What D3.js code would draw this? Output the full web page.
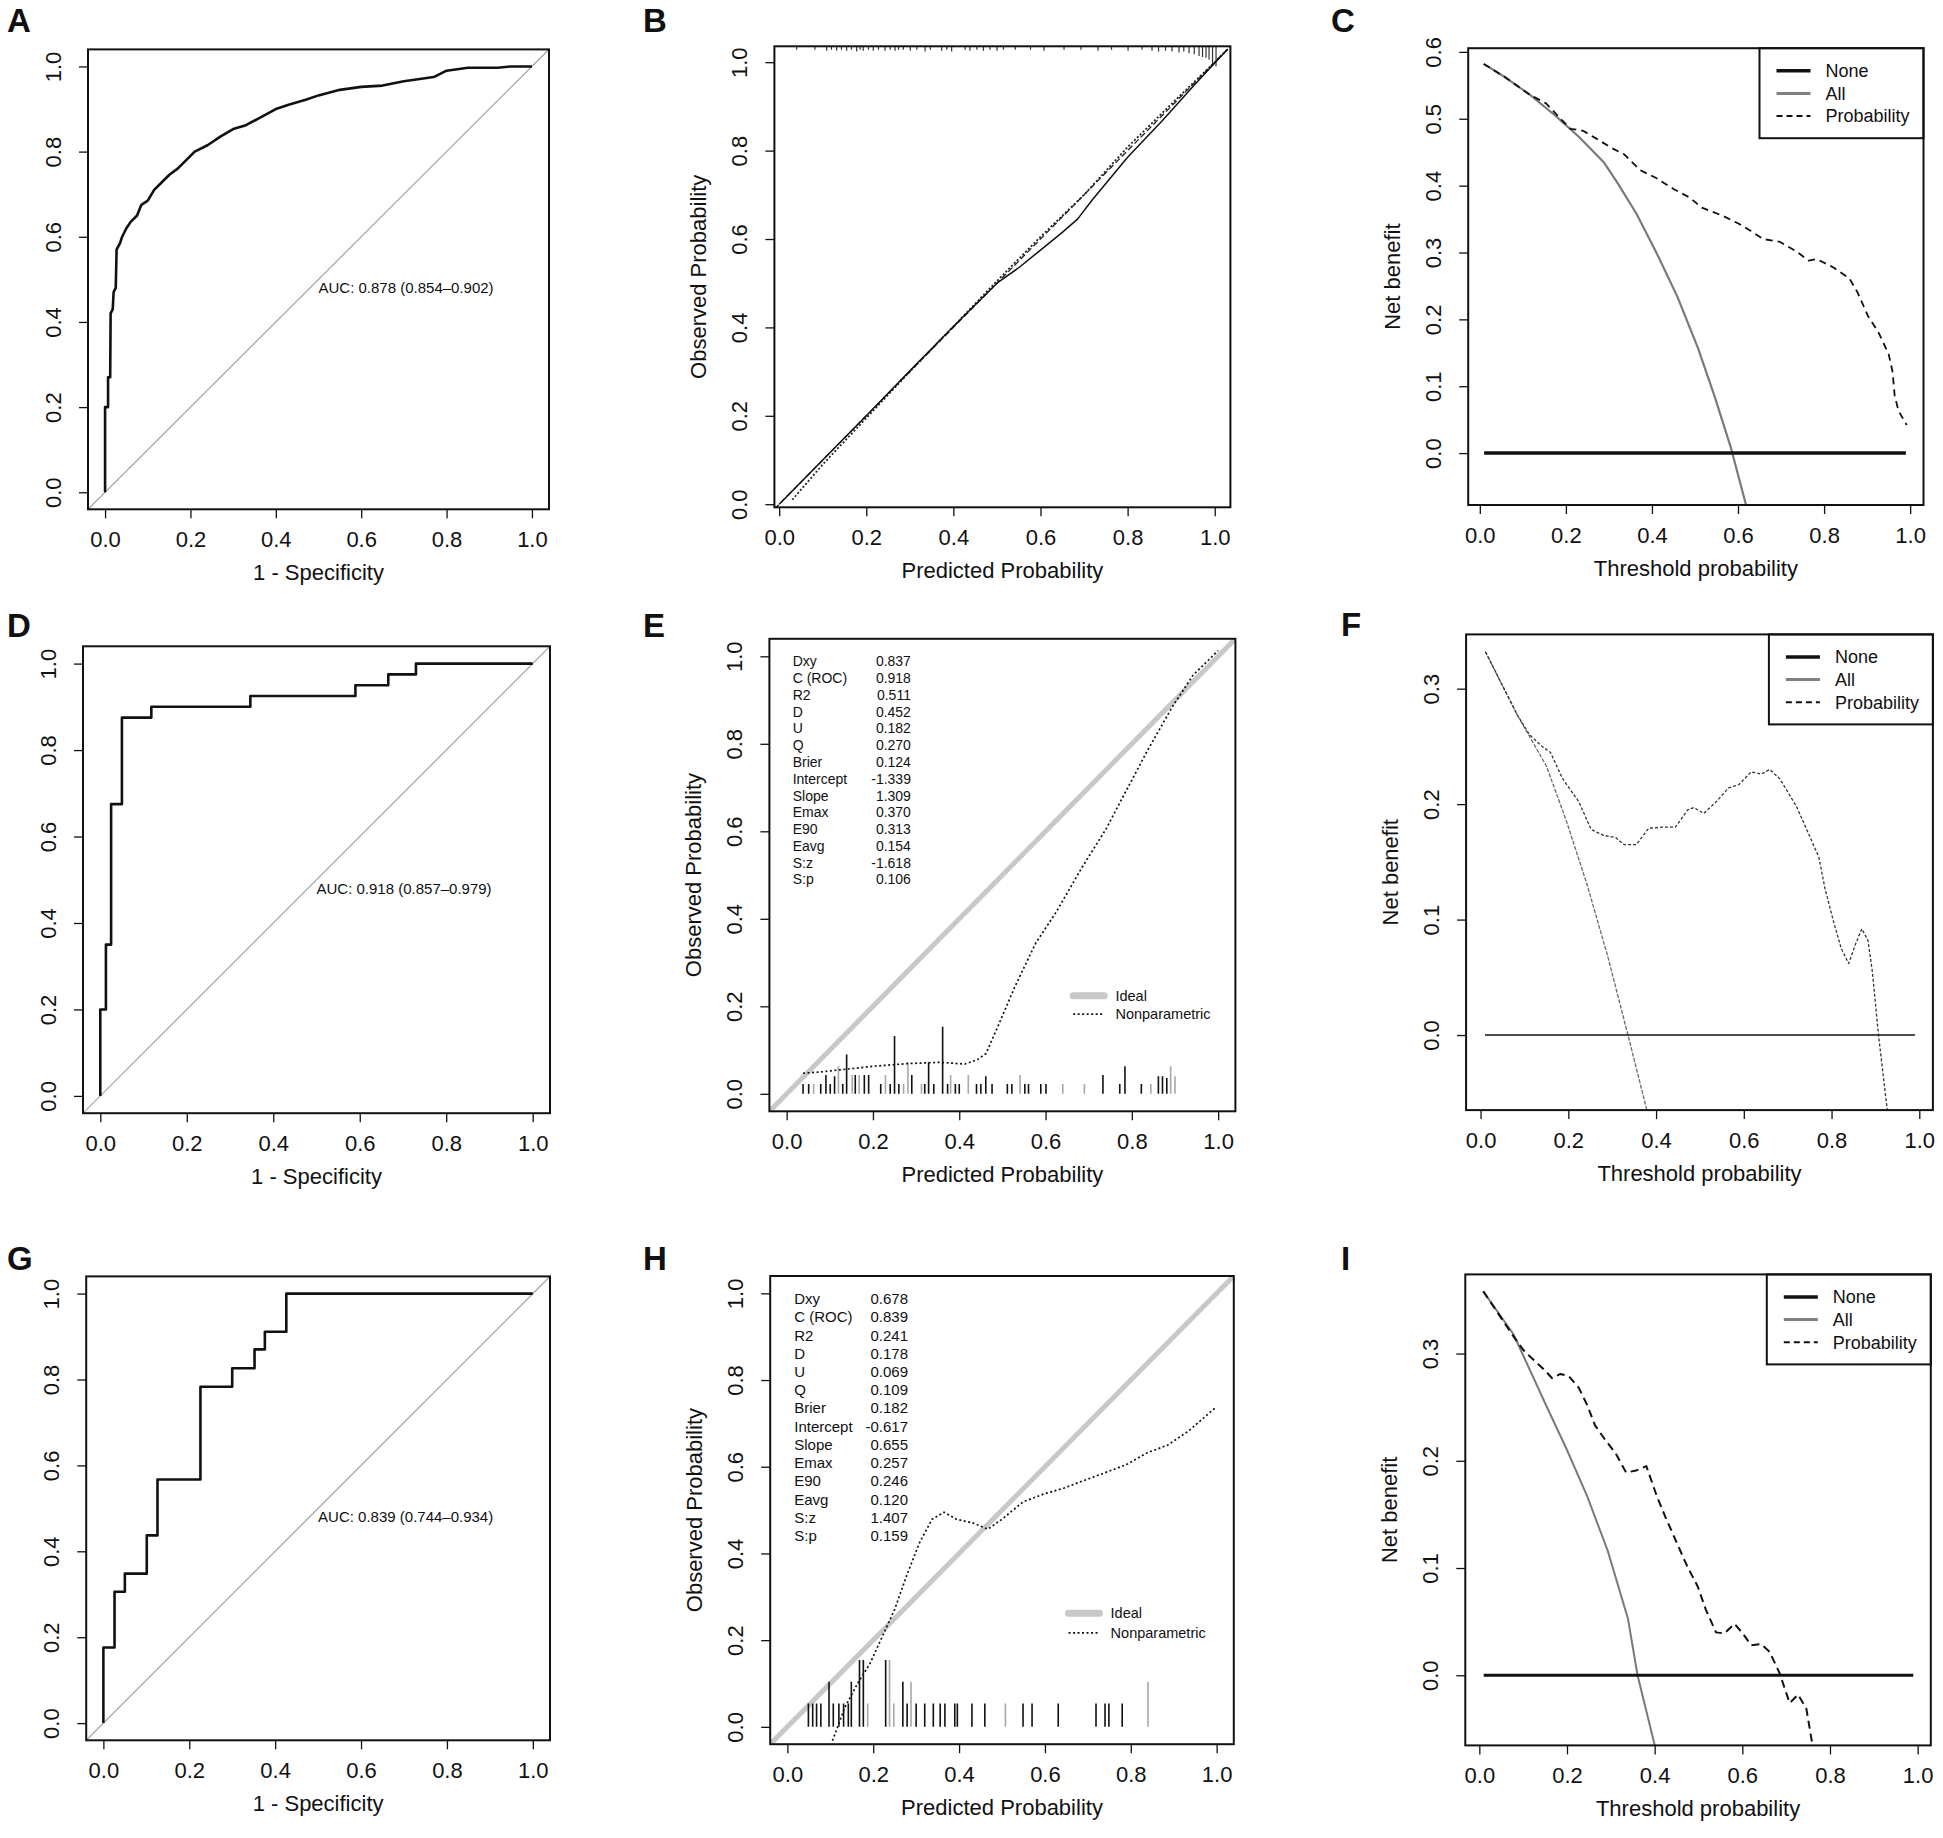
<!DOCTYPE html>
<html>
<head>
<meta charset="utf-8">
<script src="https://cdn.jsdelivr.net/npm/d3@7"></script>
<style>
  body { margin: 0; background: #fff; }
  svg { display: block; }
  text { font-family: "Liberation Sans", Arial, Helvetica, sans-serif; fill: #111; }
</style>
</head>
<body>
<svg id="fig" width="1943" height="1838"></svg>
<script>
// ---------- data ----------
const probTicks = [0, 0.2, 0.4, 0.6, 0.8, 1.0];
const nbTicksC = [0, 0.1, 0.2, 0.3, 0.4, 0.5, 0.6];
const nbTicksFI = [0, 0.1, 0.2, 0.3];

// ROC curves (1 - specificity, sensitivity)
const rocA = [[0,0],[0,0.2],[0.007,0.2],[0.007,0.27],[0.012,0.27],[0.013,0.42],[0.018,0.43],[0.02,0.47],[0.025,0.48],[0.027,0.57],[0.035,0.585],[0.04,0.6],[0.05,0.62],[0.06,0.635],[0.075,0.65],[0.085,0.675],[0.1,0.685],[0.115,0.71],[0.13,0.725],[0.15,0.745],[0.17,0.76],[0.19,0.78],[0.21,0.8],[0.24,0.815],[0.27,0.835],[0.3,0.853],[0.33,0.862],[0.36,0.878],[0.4,0.9],[0.43,0.91],[0.47,0.922],[0.5,0.932],[0.55,0.945],[0.6,0.952],[0.65,0.955],[0.7,0.965],[0.77,0.975],[0.8,0.99],[0.85,0.997],[0.92,0.997],[0.95,1.0],[1,1]];
const rocD = [[0,0],[0,0.2],[0.013,0.2],[0.013,0.35],[0.025,0.35],[0.025,0.675],[0.05,0.675],[0.05,0.875],[0.118,0.875],[0.118,0.9],[0.347,0.9],[0.347,0.925],[0.59,0.925],[0.59,0.95],[0.666,0.95],[0.666,0.975],[0.73,0.975],[0.73,1],[1,1]];
const rocG = [[0,0],[0,0.176],[0.026,0.176],[0.026,0.306],[0.05,0.306],[0.05,0.348],[0.101,0.348],[0.101,0.437],[0.126,0.437],[0.126,0.567],[0.226,0.567],[0.226,0.783],[0.3,0.783],[0.3,0.826],[0.352,0.826],[0.352,0.87],[0.376,0.87],[0.376,0.911],[0.426,0.911],[0.426,1],[1,1]];
const aucA = "AUC: 0.878 (0.854\u20130.902)";
const aucD = "AUC: 0.918 (0.857\u20130.979)";
const aucG = "AUC: 0.839 (0.744\u20130.934)";

// calibration B (apparent / bias-corrected / ideal) + rug of predictions on top
const calBApparent = [[0.03,0.01],[0.1,0.09],[0.2,0.195],[0.3,0.3],[0.4,0.402],[0.5,0.505],[0.6,0.605],[0.7,0.7],[0.8,0.808],[0.9,0.905],[1.0,1.0],[1.03,1.03]];
const calBBias = [[0,0],[0.1,0.1],[0.2,0.2],[0.3,0.302],[0.4,0.402],[0.5,0.5],[0.55,0.535],[0.6,0.575],[0.65,0.615],[0.685,0.645],[0.72,0.69],[0.8,0.785],[0.88,0.868],[0.95,0.945],[1.03,1.03]];
const calBIdeal = [[-0.011,-0.011],[1.036,1.036]];
const rugB = [[0.04,.008],[0.082,.008],[0.109,.01],[0.12,.008],[0.132,.01],[0.143,.008],[0.155,.01],[0.166,.008],[0.178,.012],[0.186,.008],[0.193,.01],[0.205,.008],[0.216,.01],[0.228,.008],[0.243,.01],[0.255,.008],[0.266,.01],[0.274,.008],[0.285,.008],[0.301,.01],[0.316,.008],[0.335,.012],[0.347,.008],[0.373,.01],[0.385,.008],[0.396,.012],[0.427,.008],[0.438,.01],[0.454,.008],[0.469,.01],[0.484,.008],[0.5,.01],[0.515,.008],[0.542,.008],[0.577,.008],[0.608,.01],[0.654,.008],[0.693,.008],[0.732,.01],[0.763,.008],[0.801,.01],[0.833,.008],[0.856,.01],[0.871,.012],[0.887,.01],[0.902,.012],[0.918,.014],[0.929,.012],[0.941,.016],[0.953,.018],[0.964,.022],[0.972,.024],[0.98,.026],[0.987,.03],[0.995,.04],[1.003,.045]];

// val.prob panels E and H
const statNames = ["Dxy","C (ROC)","R2","D","U","Q","Brier","Intercept","Slope","Emax","E90","Eavg","S:z","S:p"];
const statsE = ["0.837","0.918","0.511","0.452","0.182","0.270","0.124","-1.339","1.309","0.370","0.313","0.154","-1.618","0.106"];
const statsH = ["0.678","0.839","0.241","0.178","0.069","0.109","0.182","-0.617","0.655","0.257","0.246","0.120","1.407","0.159"];
const calLegend = ["Ideal","Nonparametric"];
const npE = [[0.038,0.047],[0.08,0.05],[0.135,0.056],[0.202,0.063],[0.279,0.069],[0.356,0.072],[0.413,0.068],[0.442,0.078],[0.462,0.092],[0.49,0.155],[0.529,0.245],[0.577,0.344],[0.625,0.416],[0.683,0.515],[0.74,0.605],[0.788,0.695],[0.837,0.786],[0.894,0.885],[0.942,0.957],[1.0,1.013]];
// [predicted, spike height, grey?]
const spikesE = [[0.038,.0225,0],[0.051,.0225,0],[0.0625,.0225,1],[0.079,.0225,0],[0.091,.043,0],[0.101,.0225,0],[0.111,.04,0],[0.12,.063,1],[0.13,.0225,0],[0.139,.09,0],[0.152,.043,1],[0.159,.043,0],[0.168,.043,1],[0.18,.043,0],[0.19,.043,0],[0.218,.0225,0],[0.229,.043,1],[0.24,.0225,0],[0.25,.132,0],[0.26,.0225,0],[0.271,.0225,1],[0.281,.072,1],[0.29,.043,0],[0.3125,.0225,1],[0.32,.0225,0],[0.329,.072,0],[0.341,.0225,0],[0.3615,.153,0],[0.373,.0225,0],[0.38,.043,1],[0.391,.0225,0],[0.4,.0225,0],[0.421,.043,1],[0.44,.0225,0],[0.45,.0225,0],[0.4615,.04,0],[0.476,.0225,0],[0.5115,.0225,0],[0.522,.0225,0],[0.541,.043,1],[0.552,.0225,0],[0.5605,.0225,0],[0.589,.0225,0],[0.601,.0225,0],[0.64,.0225,1],[0.69,.0225,1],[0.733,.043,0],[0.772,.0225,0],[0.784,.063,0],[0.822,.0225,0],[0.844,.0225,1],[0.8615,.04,0],[0.871,.04,0],[0.881,.036,0],[0.89,.063,1],[0.9,.04,1]];
const npH = [[0.105,-0.032],[0.134,0.045],[0.163,0.099],[0.192,0.145],[0.221,0.208],[0.25,0.271],[0.279,0.352],[0.308,0.425],[0.337,0.479],[0.365,0.495],[0.394,0.479],[0.433,0.47],[0.467,0.456],[0.5,0.479],[0.549,0.519],[0.597,0.537],[0.645,0.551],[0.693,0.569],[0.742,0.587],[0.79,0.605],[0.838,0.632],[0.886,0.65],[0.934,0.682],[0.997,0.736]];
const spikesH = [[0.049,.054,0],[0.059,.054,0],[0.068,.054,0],[0.078,.054,0],[0.097,.104,0],[0.107,.054,0],[0.12,.054,0],[0.131,.054,0],[0.142,.054,0],[0.149,.104,0],[0.168,.154,0],[0.177,.154,0],[0.187,.054,1],[0.229,.154,0],[0.238,.154,1],[0.248,.054,1],[0.269,.104,0],[0.279,.054,0],[0.288,.104,1],[0.3,.054,0],[0.32,.054,0],[0.34,.054,0],[0.356,.054,0],[0.367,.054,0],[0.39,.054,0],[0.396,.054,0],[0.43,.054,0],[0.46,.054,0],[0.508,.054,1],[0.549,.054,0],[0.57,.054,0],[0.631,.054,0],[0.719,.054,0],[0.74,.054,0],[0.749,.054,0],[0.78,.054,0],[0.84,.104,1]];

// decision curves (threshold, net benefit)
const dcaLegend = ["None", "All", "Probability"];
const noneLine = [[0.01,0],[0.99,0]];
const allC = [[0.009,0.582],[0.059,0.562],[0.116,0.536],[0.173,0.506],[0.23,0.473],[0.288,0.435],[0.321,0.403],[0.364,0.358],[0.411,0.299],[0.459,0.234],[0.507,0.157],[0.545,0.086],[0.583,0.009],[0.618,-0.076]];
const probC = [[0.009,0.582],[0.059,0.562],[0.116,0.536],[0.154,0.523],[0.192,0.497],[0.211,0.485],[0.24,0.482],[0.269,0.471],[0.307,0.456],[0.335,0.447],[0.373,0.423],[0.411,0.411],[0.45,0.395],[0.488,0.382],[0.516,0.367],[0.564,0.355],[0.602,0.343],[0.63,0.332],[0.659,0.32],[0.697,0.316],[0.735,0.302],[0.764,0.288],[0.783,0.29],[0.821,0.278],[0.859,0.261],[0.878,0.24],[0.902,0.205],[0.926,0.181],[0.95,0.148],[0.959,0.122],[0.964,0.086],[0.973,0.063],[0.992,0.042]];
const allF = [[0.011,0.332],[0.084,0.277],[0.15,0.233],[0.196,0.185],[0.243,0.13],[0.29,0.068],[0.336,0],[0.379,-0.065]];
const probF = [[0.011,0.332],[0.084,0.277],[0.112,0.26],[0.14,0.25],[0.159,0.245],[0.187,0.222],[0.224,0.202],[0.252,0.178],[0.28,0.173],[0.308,0.171],[0.327,0.165],[0.355,0.165],[0.383,0.179],[0.411,0.18],[0.444,0.18],[0.472,0.195],[0.486,0.197],[0.509,0.192],[0.537,0.202],[0.565,0.214],[0.589,0.217],[0.617,0.228],[0.64,0.226],[0.659,0.23],[0.682,0.222],[0.72,0.198],[0.748,0.174],[0.771,0.154],[0.785,0.127],[0.804,0.099],[0.822,0.075],[0.839,0.062],[0.855,0.079],[0.869,0.092],[0.883,0.082],[0.893,0.055],[0.907,0.0],[0.927,-0.065]];
const allI = [[0.009,0.358],[0.078,0.318],[0.152,0.252],[0.199,0.211],[0.246,0.167],[0.293,0.116],[0.339,0.053],[0.361,0],[0.4,-0.065]];
const probI = [[0.009,0.358],[0.078,0.316],[0.101,0.303],[0.124,0.294],[0.148,0.285],[0.166,0.277],[0.185,0.281],[0.204,0.279],[0.227,0.268],[0.246,0.252],[0.264,0.233],[0.288,0.219],[0.311,0.207],[0.335,0.189],[0.358,0.191],[0.381,0.195],[0.405,0.167],[0.423,0.149],[0.451,0.123],[0.475,0.101],[0.498,0.083],[0.517,0.061],[0.54,0.04],[0.559,0.039],[0.582,0.048],[0.601,0.039],[0.62,0.028],[0.643,0.029],[0.662,0.022],[0.685,0.002],[0.708,-0.026],[0.727,-0.018],[0.746,-0.031],[0.76,-0.065]];

// ---------- drawing ----------
const svg = d3.select("#fig");
const fmt = d3.format(".1f");

function panel(p) {
  const x = d3.scaleLinear().domain(p.xd).range([p.l, p.r]);
  const y = d3.scaleLinear().domain(p.yd).range([p.b, p.t]);
  const g = svg.append("g");
  const clipId = "clip" + p.label;
  svg.append("clipPath").attr("id", clipId)
    .append("rect").attr("x", p.l).attr("y", p.t).attr("width", p.r - p.l).attr("height", p.b - p.t);
  const plot = g.append("g").attr("clip-path", `url(#${clipId})`);

  const ax = g.append("g").attr("transform", `translate(0,${p.b})`)
    .call(d3.axisBottom(x).tickValues(p.xt).tickSize(9).tickFormat(fmt));
  ax.select(".domain").remove();
  ax.selectAll("line").attr("stroke", "#111").attr("stroke-width", 1.3);
  ax.selectAll("text").attr("y", 38).attr("dy", null).style("font-size", "22px");

  const ay = g.append("g").attr("transform", `translate(${p.l},0)`)
    .call(d3.axisLeft(y).tickValues(p.yt).tickSize(9).tickFormat(fmt));
  ay.select(".domain").remove();
  ay.selectAll("line").attr("stroke", "#111").attr("stroke-width", 1.3);
  ay.selectAll("text").attr("transform", "rotate(-90)").attr("x", 0).attr("y", -27)
    .attr("dy", null).attr("text-anchor", "middle").style("font-size", "22px");

  g.append("text").attr("x", (p.l + p.r) / 2).attr("y", p.b + 71)
    .attr("text-anchor", "middle").style("font-size", "22px").text(p.xlab);
  if (p.ylab) {
    g.append("text").attr("transform", `translate(${p.l - 68},${(p.t + p.b) / 2}) rotate(-90)`)
      .attr("text-anchor", "middle").style("font-size", "22px").text(p.ylab);
  }
  g.append("text").attr("x", p.lx).attr("y", p.ly)
    .style("font-size", "33px").style("font-weight", "bold").text(p.label);

  // frame goes on top, called once the marks are in
  const frame = () => g.append("rect").attr("x", p.l).attr("y", p.t)
    .attr("width", p.r - p.l).attr("height", p.b - p.t)
    .attr("fill", "none").attr("stroke", "#111").attr("stroke-width", 2);
  const line = d3.line().x(d => x(d[0])).y(d => y(d[1]));
  return { x, y, g, plot, line, frame };
}

function path(P, data, stroke, width, dash) {
  P.plot.append("path").datum(data).attr("d", P.line)
    .attr("fill", "none").attr("stroke", stroke).attr("stroke-width", width)
    .attr("stroke-dasharray", dash || null).attr("stroke-linejoin", "round");
}

// ROC panels
function rocPanel(p, roc, auc) {
  const P = panel(Object.assign({ xd: [-0.04, 1.04], yd: [-0.04, 1.04], xt: probTicks, yt: probTicks,
    xlab: "1 - Specificity", ylab: null }, p));
  path(P, [[-0.04, -0.04], [1.04, 1.04]], "#9a9a9a", 1.1);
  path(P, roc, "#111", 2.6);
  P.g.append("text").attr("x", P.x(0.5)).attr("y", P.y(0.48)).attr("dy", "0.35em")
    .style("font-size", "15px").text(auc);
  P.frame();
}
rocPanel({ label: "A", l: 88, r: 549, t: 49.4, b: 509.3, lx: 7, ly: 32 }, rocA, aucA);
rocPanel({ label: "D", l: 83, r: 550, t: 646.3, b: 1113.2, lx: 7, ly: 637 }, rocD, aucD);
rocPanel({ label: "G", l: 86.2, r: 550, t: 1276.4, b: 1740.3, lx: 7, ly: 1270 }, rocG, aucG);

// calibration B
(function () {
  const p = { label: "B", l: 774.4, r: 1230.4, t: 46.3, b: 507.3, lx: 643, ly: 32,
    xd: [-0.011, 1.036], yd: [-0.007, 1.036], xt: probTicks, yt: probTicks,
    xlab: "Predicted Probability", ylab: "Observed Probability" };
  const P = panel(p);
  P.plot.selectAll(".rug").data(rugB).enter().append("line")
    .attr("x1", d => P.x(d[0])).attr("x2", d => P.x(d[0]))
    .attr("y1", P.y(p.yd[1])).attr("y2", d => P.y(p.yd[1] - d[1]))
    .attr("stroke", "#333").attr("stroke-width", 1.2);
  path(P, calBIdeal, "#222", 1.3, "6,3");
  path(P, calBApparent, "#222", 1.8, "2,2");
  path(P, calBBias, "#111", 1.5);
  P.frame();
})();

// val.prob panels E, H
function valPanel(p, stats, np, spikes) {
  const P = panel(Object.assign({ xd: [-0.04, 1.04], yd: [-0.04, 1.04], xt: probTicks, yt: probTicks,
    xlab: "Predicted Probability", ylab: "Observed Probability" }, p));
  path(P, [[-0.04, -0.04], [1.04, 1.04]], "#c8c8c8", 5);
  P.plot.selectAll(".spike").data(spikes).enter().append("line")
    .attr("x1", d => P.x(d[0])).attr("x2", d => P.x(d[0]))
    .attr("y1", P.y(0)).attr("y2", d => P.y(d[1]))
    .attr("stroke", d => d[2] ? "#a8a8a8" : "#111").attr("stroke-width", 1.6);
  path(P, np, "#111", 1.7, "2,2.5");
  statNames.forEach((s, i) => {
    const yy = P.y(p.sy0 - i * p.sdy);
    P.g.append("text").attr("x", P.x(p.sx0)).attr("y", yy).attr("dy", "0.35em")
      .style("font-size", p.fs + "px").text(s);
    P.g.append("text").attr("x", P.x(p.sx1)).attr("y", yy).attr("dy", "0.35em")
      .attr("text-anchor", "end").style("font-size", p.fs + "px").text(stats[i]);
  });
  // legend
  const lg = P.g.append("g");
  lg.append("line").attr("x1", P.x(p.lgx0)).attr("x2", P.x(p.lgx1))
    .attr("y1", P.y(p.lgy0)).attr("y2", P.y(p.lgy0))
    .attr("stroke", "#c8c8c8").attr("stroke-width", 7).attr("stroke-linecap", "round");
  lg.append("line").attr("x1", P.x(p.lgx0)).attr("x2", P.x(p.lgx1))
    .attr("y1", P.y(p.lgy1)).attr("y2", P.y(p.lgy1))
    .attr("stroke", "#111").attr("stroke-width", 1.7).attr("stroke-dasharray", "2,2.5");
  [p.lgy0, p.lgy1].forEach((v, i) => {
    lg.append("text").attr("x", P.x(p.lgtx)).attr("y", P.y(v)).attr("dy", "0.35em")
      .style("font-size", "14.5px").text(calLegend[i]);
  });
  P.frame();
}
valPanel({ label: "E", l: 769.4, r: 1235.4, t: 638.8, b: 1111.3, lx: 643, ly: 637,
  sx0: 0.014, sx1: 0.288, sy0: 0.988, sdy: 0.0383, fs: 14,
  lgx0: 0.664, lgx1: 0.736, lgtx: 0.762, lgy0: 0.224, lgy1: 0.182 }, statsE, npE, spikesE);
valPanel({ label: "H", l: 770.2, r: 1233.8, t: 1276, b: 1744.2, lx: 643, ly: 1270,
  sx0: 0.016, sx1: 0.281, sy0: 0.987, sdy: 0.042, fs: 15,
  lgx0: 0.655, lgx1: 0.727, lgtx: 0.753, lgy0: 0.262, lgy1: 0.217 }, statsH, npH, spikesH);

// decision curves C, F, I
function dcaPanel(p, allD, probD, st) {
  const P = panel(Object.assign({ xlab: "Threshold probability", ylab: "Net benefit", xt: probTicks }, p));
  path(P, allD, st.allColor, st.allW, st.allDash);
  path(P, probD, st.probColor, st.probW, st.probDash);
  path(P, noneLine, "#111", st.noneW);
  // legend box in the top-right corner
  const lx = p.r - 164, ly = p.t;
  const lg = P.g.append("g");
  lg.append("rect").attr("x", lx).attr("y", ly).attr("width", 164).attr("height", 90)
    .attr("fill", "#fff").attr("stroke", "#111").attr("stroke-width", 2);
  const styles = [["#111", 3.5, null], ["#808080", 3, null], ["#111", 2, "6,4"]];
  dcaLegend.forEach((name, i) => {
    const yy = ly + 22.5 + i * 22.7;
    lg.append("line").attr("x1", lx + 17).attr("x2", lx + 51).attr("y1", yy).attr("y2", yy)
      .attr("stroke", styles[i][0]).attr("stroke-width", styles[i][1])
      .attr("stroke-dasharray", styles[i][2]);
    lg.append("text").attr("x", lx + 66).attr("y", yy).attr("dy", "0.35em")
      .style("font-size", "18px").text(name);
  });
  P.frame();
}
dcaPanel({ label: "C", l: 1468.2, r: 1923.5, t: 48.2, b: 505, lx: 1331, ly: 32,
  xd: [-0.027, 1.031], yd: [-0.0776, 0.6055], yt: nbTicksC }, allC, probC,
  { allColor: "#7a7a7a", allW: 2.2, allDash: null, probColor: "#111", probW: 1.8, probDash: "7,5", noneW: 3.5 });
dcaPanel({ label: "F", l: 1466.1, r: 1932.9, t: 634.4, b: 1110.1, lx: 1341, ly: 636,
  xd: [-0.033, 1.031], yd: [-0.065, 0.347], yt: nbTicksFI }, allF, probF,
  { allColor: "#6a6a6a", allW: 1.3, allDash: "4,1.5", probColor: "#333", probW: 1.3, probDash: "3,2", noneW: 1.5 });
dcaPanel({ label: "I", l: 1465.3, r: 1930.8, t: 1274.4, b: 1745.4, lx: 1341, ly: 1270,
  xd: [-0.032, 1.03], yd: [-0.0654, 0.3738], yt: nbTicksFI }, allI, probI,
  { allColor: "#7a7a7a", allW: 2, allDash: null, probColor: "#111", probW: 2, probDash: "8,5", noneW: 3 });
</script>
</body>
</html>
